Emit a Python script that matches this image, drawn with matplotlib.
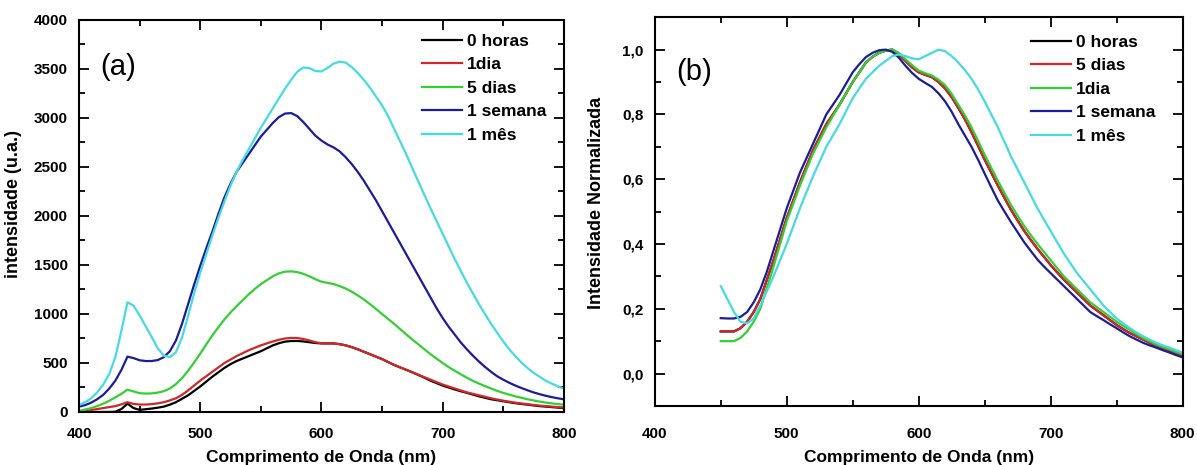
import numpy as np
import matplotlib.pyplot as plt
from matplotlib.ticker import MultipleLocator, FuncFormatter

plt.rcParams['font.family'] = ['Liberation Sans', 'DejaVu Sans']

# ---- painel (a): intensidade (u.a.), 400-800 nm de 5 em 5 ----
wl_a = list(range(400, 805, 5))
a_0h = [0, 0, 0, 0, 0, 0, 3, 30, 85, 40,
        22, 28, 35, 44, 55, 75, 100, 135, 170, 215,
        260, 310, 360, 405, 450, 488, 520, 545, 570, 595,
        620, 650, 680, 702, 718, 724, 725, 720, 712, 704,
        700, 700, 700, 692, 680, 662, 640, 615, 590, 565,
        540, 510, 480, 455, 430, 405, 378, 350, 320, 295,
        270, 250, 230, 212, 195, 178, 160, 145, 130, 120,
        110, 100, 90, 82, 75, 67, 60, 55, 50, 45,
        40]
a_1dia = [0, 10, 20, 30, 40, 50, 60, 78, 100, 82,
          76, 76, 80, 88, 100, 118, 140, 175, 220, 270,
          320, 365, 410, 455, 500, 535, 570, 600, 630, 655,
          680, 700, 720, 737, 750, 756, 755, 745, 730, 712,
          702, 700, 700, 692, 680, 662, 640, 615, 590, 565,
          540, 510, 480, 455, 430, 405, 380, 355, 330, 305,
          280, 260, 240, 220, 200, 185, 170, 155, 140, 127,
          115, 105, 95, 87, 80, 72, 65, 60, 55, 50,
          45]
a_5dias = [10, 25, 40, 60, 85, 115, 150, 185, 228, 210,
           192, 188, 190, 198, 212, 240, 285, 345, 420, 505,
           595, 690, 780, 865, 945, 1015, 1080, 1140, 1200, 1255,
           1305, 1345, 1385, 1415, 1432, 1435, 1428, 1410, 1385, 1355,
           1330, 1318, 1305, 1285, 1260, 1228, 1190, 1148, 1102, 1052,
           1000, 950, 900, 845, 792, 740, 690, 640, 590, 545,
           500, 458, 420, 385, 350, 318, 290, 264, 240, 216,
           195, 177, 160, 145, 130, 118, 106, 96, 88, 81,
           75]
a_1sem = [55, 70, 95, 130, 175, 240, 320, 430, 565, 550,
          528, 520, 520, 530, 560, 620, 730, 900, 1100, 1300,
          1490, 1670, 1840, 2020, 2190, 2330, 2450, 2540, 2630, 2720,
          2810, 2880, 2950, 3010, 3045, 3050, 3020, 2960, 2890, 2820,
          2770, 2730, 2700, 2660, 2600, 2530, 2450, 2360, 2260, 2160,
          2050, 1940, 1830, 1720, 1610, 1500, 1390, 1280, 1170, 1060,
          960, 870, 790, 710, 640, 575, 515, 460, 410, 365,
          330, 298, 270, 245, 222, 200, 182, 166, 152, 140,
          130]
a_1mes = [70, 100, 140, 200, 280, 390, 560, 830, 1120, 1085,
          985, 875, 765, 650, 575, 560, 610, 760, 980, 1210,
          1420, 1610, 1800, 1980, 2150, 2310, 2450, 2570, 2680, 2790,
          2900, 3000, 3100, 3200, 3300, 3390, 3470, 3515, 3510, 3480,
          3475, 3510, 3555, 3575, 3565, 3520, 3460, 3390, 3310, 3220,
          3130, 3020, 2890, 2760, 2630, 2490, 2350, 2215, 2080, 1950,
          1820, 1690, 1560, 1440, 1320, 1210, 1100, 1000, 900, 810,
          720, 640, 570, 505, 450, 400, 360, 320, 290, 262,
          240]

# ---- painel (b): intensidade normalizada, 450-800 nm de 5 em 5 ----
wl_b = list(range(450, 805, 5))
b_0h = [.13, .13, .13, .14, .16, .19, .23, .29, .35, .415,
        .48, .535, .59, .64, .69, .73, .77, .80, .83, .865,
        .90, .93, .96, .978, .99, .997, 1.0, .985, .965, .945,
        .93, .922, .915, .90, .88, .853, .82, .785, .745, .703,
        .66, .62, .58, .542, .505, .472, .44, .412, .385, .36,
        .335, .312, .29, .27, .25, .23, .21, .195, .18, .165,
        .15, .137, .125, .115, .105, .095, .085, .077, .07, .062,
        .055]
b_5dias = [.13, .13, .13, .14, .16, .19, .23, .29, .35, .415,
           .48, .535, .59, .64, .69, .73, .77, .80, .83, .865,
           .90, .93, .96, .978, .99, .997, 1.0, .985, .965, .945,
           .93, .922, .915, .90, .88, .853, .82, .785, .745, .703,
           .66, .62, .58, .542, .505, .472, .44, .412, .385, .36,
           .335, .312, .29, .27, .25, .23, .21, .195, .18, .165,
           .15, .137, .125, .115, .105, .095, .085, .077, .07, .062,
           .055]
b_1dia = [.10, .10, .10, .11, .13, .16, .20, .265, .33, .40,
          .47, .525, .58, .63, .68, .72, .76, .795, .83, .865,
          .90, .93, .96, .978, .99, .997, 1.0, .99, .97, .952,
          .935, .927, .92, .907, .89, .863, .83, .797, .76, .718,
          .675, .635, .595, .557, .52, .487, .455, .427, .40, .375,
          .35, .325, .30, .28, .26, .24, .22, .205, .19, .175,
          .16, .147, .135, .122, .11, .10, .09, .082, .075, .067,
          .06]
b_1sem = [.171, .170, .170, .175, .19, .22, .26, .315, .38, .445,
          .51, .565, .62, .665, .71, .755, .80, .83, .86, .895,
          .93, .955, .977, .99, .998, 1.0, .993, .975, .95, .928,
          .91, .897, .885, .865, .84, .808, .77, .735, .70, .66,
          .617, .575, .534, .50, .467, .436, .405, .378, .352, .33,
          .31, .29, .27, .25, .23, .21, .19, .177, .165, .152,
          .14, .127, .115, .105, .095, .087, .08, .072, .065, .057,
          .05]
b_1mes = [.27, .23, .19, .16, .155, .17, .21, .255, .30, .35,
          .40, .455, .51, .56, .61, .655, .70, .735, .77, .81,
          .85, .88, .91, .93, .95, .965, .98, .985, .98, .973,
          .97, .98, .99, 1.0, .995, .98, .96, .937, .91, .877,
          .84, .80, .76, .715, .67, .63, .59, .55, .51, .475,
          .44, .405, .37, .34, .31, .285, .26, .235, .21, .19,
          .17, .155, .14, .127, .115, .105, .095, .087, .08, .072,
          .065]

c_black = '#000000'
c_red = '#d02828'
c_green = '#33d033'
c_blue = '#1c1c96'
c_cyan = '#45dbe0'

fig = plt.figure(figsize=(11.97, 4.65), dpi=100)
ax1 = fig.add_axes([0.066, 0.114, 0.405, 0.843])
ax2 = fig.add_axes([0.547, 0.127, 0.441, 0.836])

lw = 1.6
ax1.plot(wl_a, a_0h, color=c_black, lw=lw, label='0 horas')
ax1.plot(wl_a, a_1dia, color=c_red, lw=lw, label='1dia')
ax1.plot(wl_a, a_5dias, color=c_green, lw=lw, label='5 dias')
ax1.plot(wl_a, a_1sem, color=c_blue, lw=lw, label='1 semana')
ax1.plot(wl_a, a_1mes, color=c_cyan, lw=lw, label='1 mês')

ax2.plot(wl_b, b_0h, color=c_black, lw=lw, label='0 horas')
ax2.plot(wl_b, b_5dias, color=c_red, lw=lw, label='5 dias')
ax2.plot(wl_b, b_1dia, color=c_green, lw=lw, label='1dia')
ax2.plot(wl_b, b_1sem, color=c_blue, lw=lw, label='1 semana')
ax2.plot(wl_b, b_1mes, color=c_cyan, lw=lw, label='1 mês')

ax1.set_xlim(400, 800)
ax1.set_ylim(0, 4000)
ax1.yaxis.set_major_locator(MultipleLocator(500))
ax1.yaxis.set_minor_locator(MultipleLocator(250))

ax2.set_xlim(400, 800)
ax2.set_ylim(-0.1, 1.1)
ax2.yaxis.set_major_locator(MultipleLocator(0.2))
ax2.yaxis.set_minor_locator(MultipleLocator(0.1))
ax2.yaxis.set_major_formatter(FuncFormatter(lambda v, p: ('%.1f' % v).replace('.', ',')))

for ax, xpad, leg_xy in ((ax1, 10.5, (0.707, 0.965)), (ax2, 15.0, (0.712, 0.955))):
    ax.xaxis.set_major_locator(MultipleLocator(100))
    ax.xaxis.set_minor_locator(MultipleLocator(50))
    ax.tick_params(which='both', direction='in', top=True, right=True, width=1.3)
    ax.tick_params(which='major', length=7, labelsize=11)
    ax.tick_params(which='minor', length=4)
    ax.tick_params(axis='x', which='major', pad=xpad)
    ax.tick_params(axis='y', which='major', pad=8)
    for lab in ax.get_xticklabels() + ax.get_yticklabels():
        lab.set_fontweight('bold')
    for s in ax.spines.values():
        s.set_linewidth(1.5)
    ax.set_xlabel('Comprimento de Onda (nm)', fontsize=12.5, fontweight='bold', labelpad=6.5)
    ax.legend(loc='upper left', bbox_to_anchor=leg_xy, frameon=False,
              borderpad=0, borderaxespad=0,
              handlelength=2.3, handletextpad=0.3, labelspacing=0.48,
              prop={'size': 12.5, 'weight': 'bold'})

ax1.set_ylabel('intensidade (u.a.)', fontsize=13, fontweight='bold')
ax1.yaxis.set_label_coords(-0.118, 0.53)
ax2.set_ylabel('Intensidade Normalizada', fontsize=13, fontweight='bold')
ax2.yaxis.set_label_coords(-0.094, 0.523)

ax1.text(0.043, 0.88, '(a)', transform=ax1.transAxes, fontsize=21, va='center')
ax2.text(0.040, 0.86, '(b)', transform=ax2.transAxes, fontsize=21, va='center')

fig.savefig('out.png', dpi=100)
